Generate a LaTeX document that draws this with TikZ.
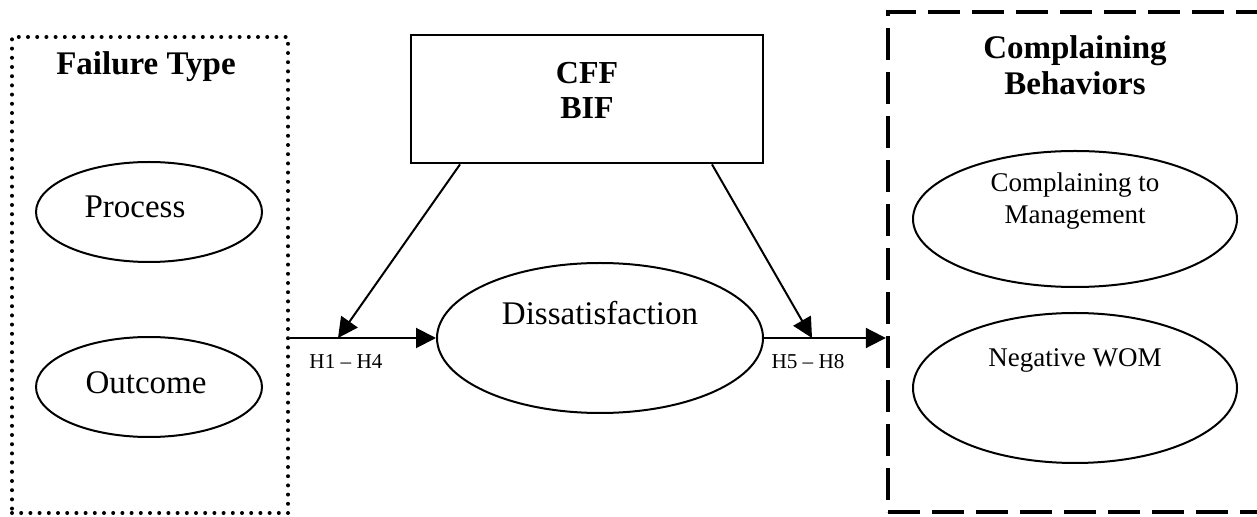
\documentclass[tikz,border=0pt]{standalone}
\usepackage{fontspec}
\setmainfont{Liberation Serif}
\usetikzlibrary{shapes.geometric,arrows.meta}
\begin{document}
\begin{tikzpicture}[x=0.5pt,y=-0.5pt,
    big/.style={font=\fontsize{16.5}{19}\selectfont},
    mid/.style={font=\fontsize{13.5}{16}\selectfont},
    small/.style={font=\fontsize{10.6}{12}\selectfont},
    oval/.style={ellipse,draw,line width=1pt,inner sep=0pt},
    dotbox/.style={draw,line width=2pt,line cap=round,dash pattern=on 0pt off 4.6pt,
      minimum width=138pt,minimum height=238pt,inner sep=0pt},
    dashbox/.style={draw,line width=2.2pt,dash pattern=on 16pt off 6pt,
      minimum width=201pt,minimum height=250pt,inner sep=0pt},
    arr/.style={line width=1pt,-{Triangle[length=10pt,width=10pt]}},
  ]
\useasboundingbox (0,0) rectangle (1257,517);
% groups
\node[dotbox] (ftype) at (150,275) {};
\node[dashbox] (cbox) at (1089,262) {};
\node[big,font=\bfseries\fontsize{16.5}{19}\selectfont] (ftitle) at (146,67) {Failure Type};
\node[big,font=\bfseries\fontsize{16.5}{18}\selectfont,align=center] (ctitle) at (1075,65) {Complaining\\Behaviors};
% moderators
\node[draw,line width=1.4pt,minimum width=176pt,minimum height=64pt] (mod) at (587,99) {};
\node[big,font=\bfseries\fontsize{16}{17.5}\selectfont,align=center] (modtxt) at (587,90) {CFF\\BIF};
% ellipses
\node[oval,minimum width=113pt,minimum height=50pt,
  label={[big,xshift=-7pt,yshift=2.5pt]center:Process}] (proc) at (149,212) {};
\node[oval,minimum width=113pt,minimum height=50pt,
  label={[big,xshift=-1.5pt,yshift=2pt]center:Outcome}] (outc) at (149,387) {};
\node[oval,minimum width=163pt,minimum height=75pt,
  label={[big,yshift=12.5pt]center:Dissatisfaction}] (dis) at (600,338) {};
\node[oval,minimum width=162pt,minimum height=68pt,
  label={[mid,align=center,yshift=9pt]center:Complaining to\\Management}] (ctm) at (1075,219) {};
\node[oval,minimum width=162pt,minimum height=75pt,
  label={[mid,yshift=14pt]center:Negative WOM}] (nwom) at (1075,388) {};
% arrows
\coordinate (h1) at (338,338);
\coordinate (h2) at (812,338);
\draw[arr] (ftype.east |- dis.west) -- (dis.west);
\draw[arr] (dis.east) -- (cbox.west |- dis.east);
\draw[arr] ([xshift=-63.5pt]mod.south) -- (h1);
\draw[arr] ([xshift=62.5pt]mod.south) -- (h2);
\node[small] (lab1) at (346,362) {H1 -- H4};
\node[small] (lab2) at (808,362) {H5 -- H8};
\end{tikzpicture}
\end{document}
